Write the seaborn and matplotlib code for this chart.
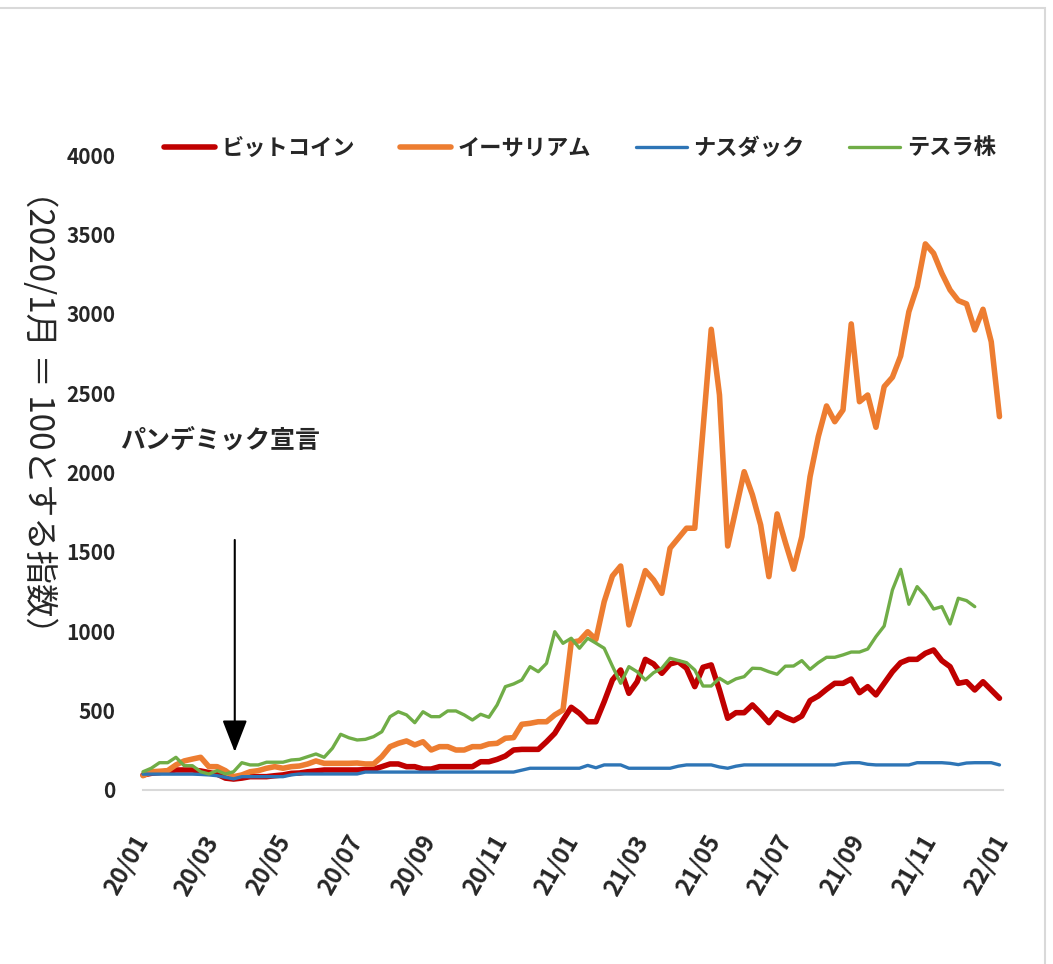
import numpy as np
import pandas as pd
import matplotlib.pyplot as plt
import matplotlib.dates as mdates
from matplotlib.patches import Rectangle
import seaborn as sns

sns.set_style("white")
plt.rcParams['font.family'] = ['Noto Sans CJK JP', 'DejaVu Sans']

# weekly index values (2020/1 = 100)
dates = pd.date_range("2020-01-01", periods=105, freq="7D")

bitcoin = [95, 105, 110, 120, 126, 126, 126, 120, 110, 100, 75, 69, 75, 84, 84, 84, 90, 95, 105, 107,
           115, 120, 126, 126, 126, 126, 126, 128, 130, 147, 164, 164, 147, 147, 132, 132, 147, 147, 147, 147,
           147, 178, 178, 193, 214, 252, 256, 256, 256, 304, 357, 441, 521, 483, 430, 430, 556, 693, 756, 609,
           682, 823, 794, 735, 794, 808, 767, 651, 773, 788, 630, 452, 487, 487, 536, 483, 424, 487, 458, 437,
           466, 563, 592, 634, 672, 672, 699, 613, 651, 599, 672, 745, 802, 823, 823, 861, 882, 815, 777, 672,
           682, 630, 682, 630, 578]

ethereum = [90, 115, 118, 122, 158, 183, 195, 206, 147, 147, 122, 84, 95, 115, 122, 137, 147, 137, 147, 151,
            164, 183, 168, 168, 168, 168, 170, 164, 164, 210, 273, 294, 309, 284, 304, 252, 273, 273, 252, 252,
            273, 273, 290, 294, 326, 330, 414, 420, 430, 430, 473, 504, 930, 940, 997, 949, 1186, 1348, 1411, 1040,
            1210, 1382, 1323, 1239, 1523, 1586, 1649, 1649, 2270, 2902, 2489, 1537, 1770, 2005, 1859, 1670, 1344, 1739, 1560, 1391,
            1596, 1974, 2226, 2419, 2320, 2394, 2936, 2446, 2488, 2285, 2541, 2600, 2734, 3013, 3171, 3440, 3381, 3255, 3150, 3083,
            3062, 2898, 3028, 2824, 2352]

nasdaq = [100, 100, 100, 100, 100, 100, 100, 98, 95, 90, 80, 70, 84, 84, 84, 84, 84, 84, 95, 101,
          101, 101, 101, 101, 101, 101, 101, 113, 113, 113, 113, 113, 113, 113, 113, 113, 113, 113, 113, 113,
          113, 113, 113, 113, 113, 113, 125, 137, 137, 137, 137, 137, 137, 137, 155, 140, 158, 158, 158, 137,
          137, 137, 137, 137, 137, 150, 158, 158, 158, 158, 145, 137, 150, 158, 158, 158, 158, 158, 158, 158,
          158, 158, 158, 158, 158, 168, 172, 172, 162, 158, 158, 158, 158, 158, 172, 172, 172, 172, 168, 160,
          170, 172, 172, 172, 158]

tesla = [115, 137, 172, 172, 206, 153, 153, 115, 101, 122, 101, 115, 172, 158, 158, 175, 175, 175, 189, 193,
         210, 227, 206, 263, 351, 329, 315, 319, 336, 367, 462, 493, 473, 424, 493, 462, 462, 498, 498, 473,
         441, 477, 458, 536, 651, 668, 693, 777, 745, 798, 997, 924, 956, 893, 956, 925, 893, 780, 672, 777,
         745, 693, 739, 767, 830, 816, 802, 756, 655, 655, 704, 672, 700, 714, 767, 765, 745, 729, 780, 781,
         815, 760, 802, 836, 836, 851, 869, 869, 888, 966, 1033, 1260, 1390, 1170, 1281, 1222, 1140, 1155, 1046, 1208,
         1193, 1155, np.nan, np.nan, np.nan]

names = ["ビットコイン", "イーサリアム", "ナスダック", "テスラ株"]
colors = ["#C00000", "#ED7D31", "#2E75B6", "#70AD47"]
widths = [4.0, 4.0, 2.4, 2.4]

df = pd.DataFrame({"date": dates, names[0]: bitcoin, names[1]: ethereum,
                   names[2]: nasdaq, names[3]: tesla})

fig = plt.figure(figsize=(10.53, 9.64), dpi=100)
ax = fig.add_axes([143/1053, 1-790/964, 860/1053, 635/964])

for name, c, w in zip(names, colors, widths):
    sub = df[["date", name]].dropna()
    sns.lineplot(data=sub, x="date", y=name, color=c, linewidth=w, label=name, ax=ax)

for ln in ax.lines:
    ln.set_clip_on(False)
    ln.set_solid_joinstyle("round")

ax.set_xlim(pd.Timestamp("2020-01-01"), pd.Timestamp("2022-01-01"))
ax.set_ylim(0, 4000)
ax.set_yticks(range(0, 4001, 500))
ax.xaxis.set_major_locator(mdates.MonthLocator(bymonth=[1, 3, 5, 7, 9, 11]))
ax.xaxis.set_major_formatter(mdates.DateFormatter("%y/%m"))
ax.set_xlabel("")
ax.set_ylabel("")

for s in ["top", "right", "left"]:
    ax.spines[s].set_visible(False)
ax.spines["bottom"].set_color("#d9d9d9")
ax.spines["bottom"].set_linewidth(1.5)

ax.tick_params(axis="y", length=0, pad=20, labelsize=15)
ax.tick_params(axis="x", length=0, pad=34, labelsize=17)
for t in ax.get_yticklabels():
    t.set_fontweight("bold")
for t in ax.get_xticklabels():
    t.set_fontweight("bold")
    t.set_rotation(60)
    t.set_ha("right")
    t.set_va("center")
    t.set_rotation_mode("anchor")

ax.legend(loc="center", bbox_to_anchor=(580/1053, 1-148/964), bbox_transform=fig.transFigure,
          ncol=4, frameon=False, handlelength=2.3, handletextpad=0.3, columnspacing=2.0,
          prop={"size": 16, "weight": "bold"})

# pandemic declaration arrow
ax.annotate("", xy=(pd.Timestamp("2020-03-19"), 240), xytext=(pd.Timestamp("2020-03-19"), 1575),
            arrowprops=dict(arrowstyle="-|>,head_length=0.9,head_width=0.35", color="black",
                            lw=1.5, mutation_scale=22, shrinkA=0, shrinkB=0))
fig.text(120/1053, 1-440/964, "パンデミック宣言", ha="left", va="center", fontsize=18, fontweight="bold")

fig.text(38/1053, 1-412/964, "（2020/1月 ＝ 100とする指数）", rotation=270,
         ha="center", va="center", fontsize=24)

fig.add_artist(Rectangle((-0.01, -0.01), 1045/1053 + 0.01, (964-8)/964 + 0.01,
                         transform=fig.transFigure, fill=False, edgecolor="#d9d9d9", lw=1.5))

fig.savefig("out.png", dpi=100)
